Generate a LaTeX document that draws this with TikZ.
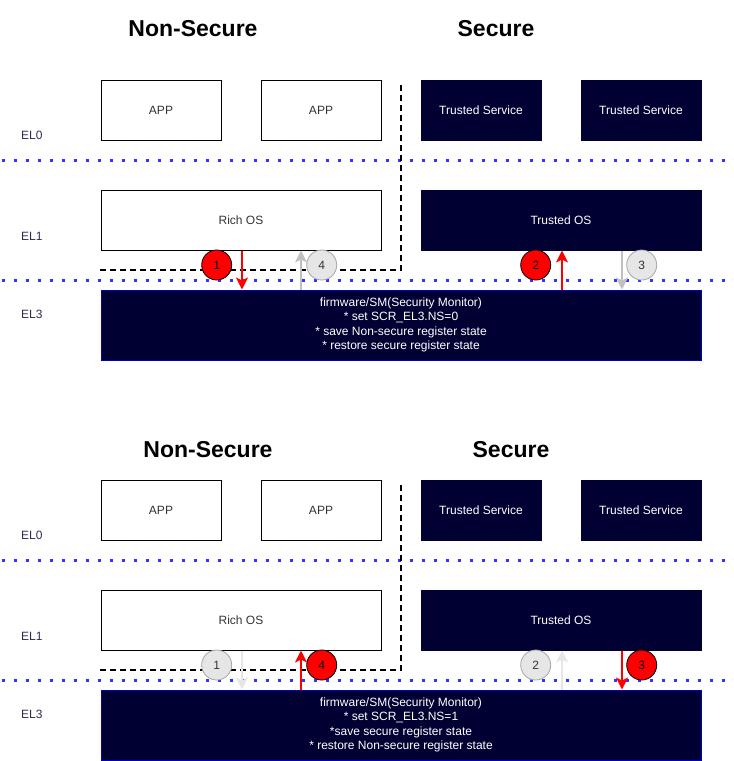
\documentclass[tikz,border=0pt]{standalone}
\usepackage{fontspec}
\setmainfont{Liberation Sans}
\usetikzlibrary{arrows.meta}
\definecolor{navy}{HTML}{000033}
\definecolor{dotblue}{HTML}{3333FF}
\definecolor{txtgray}{HTML}{333333}
\definecolor{ellabel}{HTML}{2B2B55}
\definecolor{grayfill}{HTML}{E6E6E6}
\definecolor{grayline}{HTML}{A6A6A6}
\definecolor{arrgrayA}{HTML}{C0C0C0}
\definecolor{arrgrayB}{HTML}{E6E6E6}
\definecolor{fwborder}{HTML}{0000CC}
\begin{document}
\begin{tikzpicture}[x=1pt,y=-1pt,
  font=\fontsize{12}{14.3}\selectfont,
  appbox/.style={draw=black, line width=1pt, minimum width=120pt, minimum height=60pt, inner sep=0pt, text=txtgray},
  widebox/.style={appbox, minimum width=280pt},
  dark/.style={fill=navy, draw=navy, text=white},
  fwbox/.style={fill=navy, draw=fwborder, line width=1pt, text=white, minimum width=600pt, minimum height=70pt, inner sep=0pt, align=center},
  title/.style={font=\fontsize{23}{27}\selectfont\bfseries, inner sep=0pt},
  ellbl/.style={anchor=west, text=ellabel, inner sep=0pt},
  num/.style={circle, minimum size=30pt, inner sep=0pt, line width=0.8pt, text=black},
  rednum/.style={num, fill=red, draw=black},
  graynum/.style={num, fill=grayfill, draw=grayline, text=txtgray},
  level/.style={draw=dotblue, line width=3pt, dash pattern=on 3pt off 9pt},
  border/.style={draw=black, line width=2pt, dash pattern=on 6pt off 4pt},
  arr/.style={line width=2pt, -{Stealth[length=12pt,width=12pt,inset=3pt]}},
  redarr/.style={arr, draw=red, fill=red},
  grayarrA/.style={arr, draw=arrgrayA, fill=arrgrayA},
  grayarrB/.style={arr, draw=arrgrayB, fill=arrgrayB}
]
\useasboundingbox (0,0) rectangle (734,761);

% ================= TOP =================
\node[title] (tNS) at (193,29) {Non-Secure};
\node[title] (tS) at (496,29) {Secure};

\draw[level] (1.5,160) -- (734,160);
\draw[level] (1.5,280) -- (734,280);

\node[ellbl] (el0a) at (21,135) {EL0};
\node[ellbl] (el1a) at (21,236) {EL1};
\node[ellbl] (el3a) at (21,314) {EL3};

\node[appbox] (app1a) at (161,110) {APP};
\node[appbox] (app2a) at (321,110) {APP};
\node[appbox, dark] (ts1a) at (481,110) {Trusted Service};
\node[appbox, dark] (ts2a) at (641,110) {Trusted Service};
\node[widebox] (richa) at (241,220) {Rich OS};
\node[widebox, dark] (tosa) at (561,220) {Trusted OS};
\node[fwbox] (fwa) at (401,325) {firmware/SM(Security Monitor)\\* set SCR\_EL3.NS=0\\* save Non-secure register state\\* restore secure register state};

\coordinate (da1) at (401,85);
\coordinate (da2) at (401,270);
\coordinate (da3) at (100,270);
\draw[border] (da1) -- (da2) -- (da3);

\draw[redarr] (242,0 |- richa.south) -- (242,0 |- fwa.north);
\draw[grayarrA] (301,0 |- fwa.north) -- (301,0 |- richa.south);
\draw[redarr] (562,0 |- fwa.north) -- (562,0 |- tosa.south);
\draw[grayarrA] (622,0 |- tosa.south) -- (622,0 |- fwa.north);

\node[rednum] (c1a) at (216.7,265) {1};
\node[graynum] (c4a) at (321.7,265) {4};
\node[rednum] (c2a) at (535.7,265) {2};
\node[graynum] (c3a) at (641.7,265) {3};

% ================= BOTTOM =================
\node[title] (bNS) at (208,450) {Non-Secure};
\node[title] (bS) at (511,450) {Secure};

\draw[level] (1.5,560) -- (734,560);
\draw[level] (1.5,680) -- (734,680);

\node[ellbl] (el0b) at (21,535) {EL0};
\node[ellbl] (el1b) at (21,636) {EL1};
\node[ellbl] (el3b) at (21,714) {EL3};

\node[appbox] (app1b) at (161,510) {APP};
\node[appbox] (app2b) at (321,510) {APP};
\node[appbox, dark] (ts1b) at (481,510) {Trusted Service};
\node[appbox, dark] (ts2b) at (641,510) {Trusted Service};
\node[widebox] (richb) at (241,620) {Rich OS};
\node[widebox, dark] (tosb) at (561,620) {Trusted OS};
\node[fwbox] (fwb) at (401,725) {firmware/SM(Security Monitor)\\* set SCR\_EL3.NS=1\\*save secure register state\\* restore Non-secure register state};

\coordinate (db1) at (401,485);
\coordinate (db2) at (401,670);
\coordinate (db3) at (100,670);
\draw[border] (db1) -- (db2) -- (db3);

\draw[grayarrB] (242,0 |- richb.south) -- (242,0 |- fwb.north);
\draw[redarr] (301,0 |- fwb.north) -- (301,0 |- richb.south);
\draw[grayarrB] (562,0 |- fwb.north) -- (562,0 |- tosb.south);
\draw[redarr] (622,0 |- tosb.south) -- (622,0 |- fwb.north);

\node[graynum] (c1b) at (216.7,665) {1};
\node[rednum] (c4b) at (321.7,665) {4};
\node[graynum] (c2b) at (535.7,665) {2};
\node[rednum] (c3b) at (641.7,665) {3};
\end{tikzpicture}
\end{document}
